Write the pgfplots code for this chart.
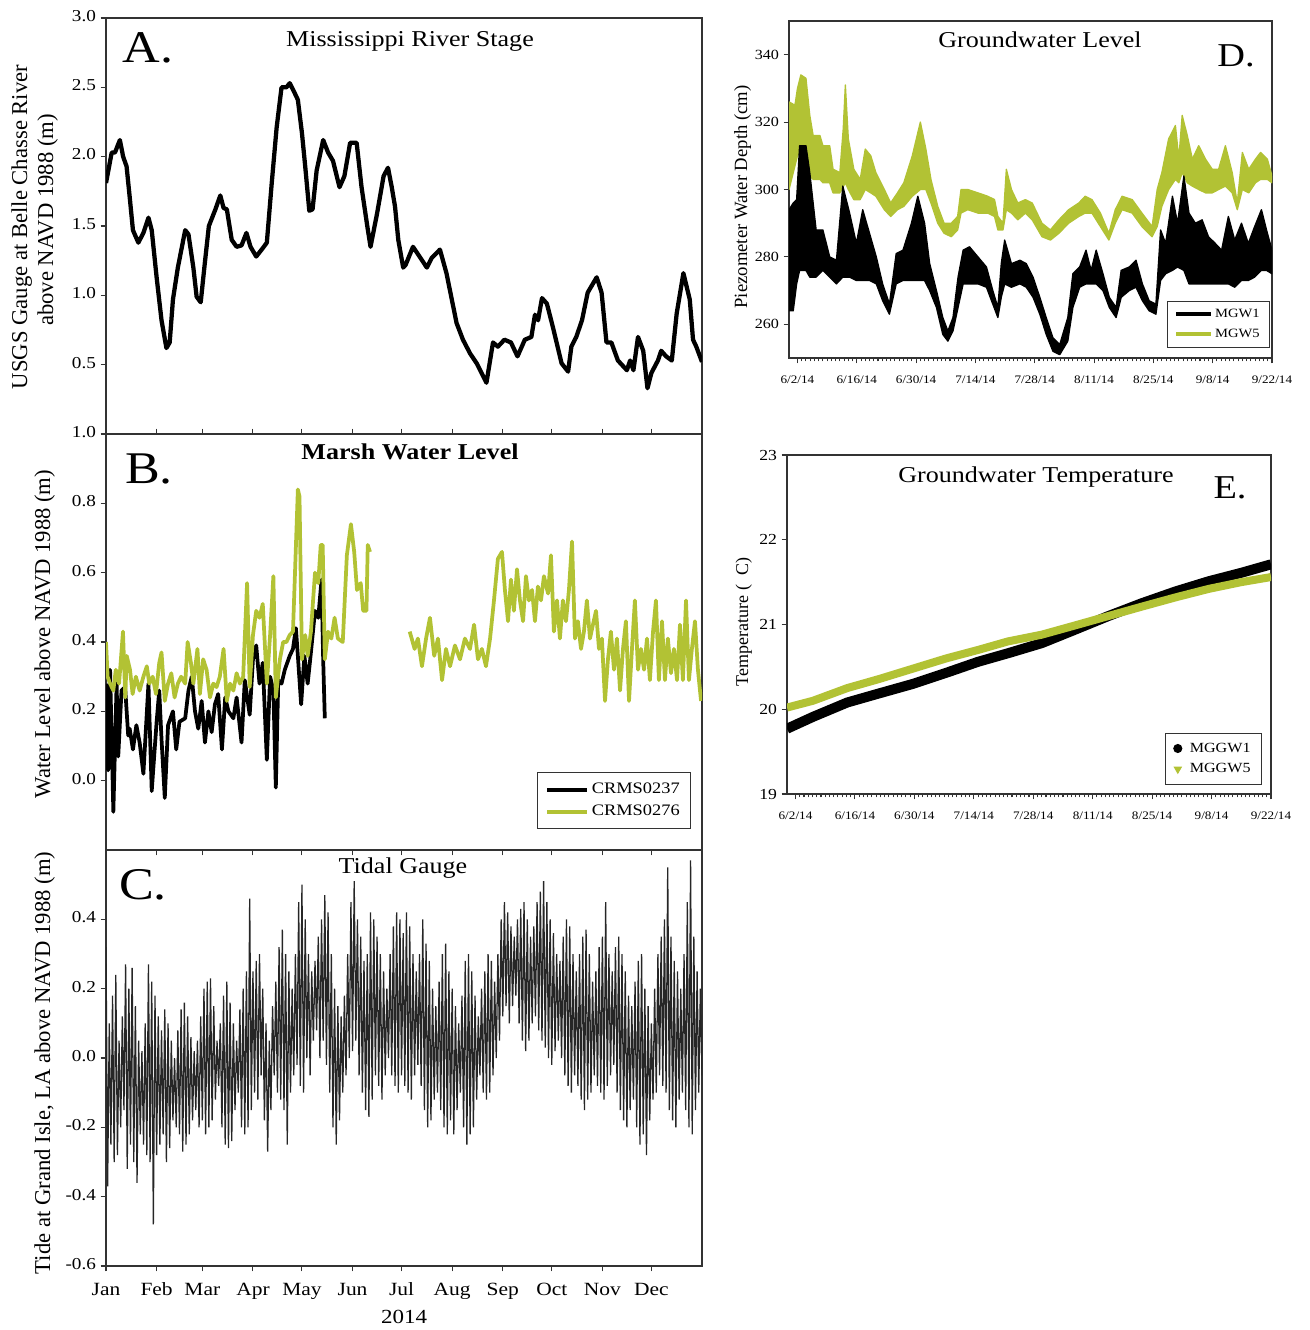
\documentclass[border=0pt]{standalone}
\usepackage{pgfplots}
\pgfplotsset{compat=1.18}
\usepackage{fontspec}
\setmainfont{Liberation Serif}[FakeStretch=1.15]
\newfontfamily\rotfont{Liberation Serif}
\definecolor{ygreen}{RGB}{178,194,52}
\def\U{0.75pt}
\newcommand\fs[1]{\fontsize{#1}{#1}\selectfont}
\pgfplotsset{
  base/.style={scale only axis, axis line style={black!80, line width=1pt},
    tick style={black!80, line width=0.8pt},
    tick align=outside, major tick length=4pt, minor tick length=2.5pt,
    ytick pos=left,
    /pgf/number format/assume math mode=true,
  },
  left/.style={base, width=447pt, height=312pt, xmin=0, xmax=365,
    /pgf/number format/fixed, /pgf/number format/fixed zerofill, /pgf/number format/precision=1,
    yticklabel style={font=\fs{12.5}},
    xticklabel style={font=\fs{14}, yshift=-5pt},
    typeset ticklabels with strut,
  },
  right/.style={base, xmin=-2, xmax=112,
    xtick={0,14,28,42,56,70,84,98,112},
    xticklabels={6/2/14,6/16/14,6/30/14,7/14/14,7/28/14,8/11/14,8/25/14,9/8/14,9/22/14},
    minor x tick num=13, xtick pos=left,
    xticklabel style={font=\fs{8.6}, yshift=-6pt},
  },
}
\begin{document}
\begin{tikzpicture}
\useasboundingbox (0,0) rectangle (981.75pt,-997.5pt);
% ---------------- A
\begin{axis}[left, at={(79.5pt,-325.5pt)}, anchor=south west, ymin=0, ymax=3,
  ytick={0.5,1.0,1.5,2.0,2.5,3.0}, xtick=\empty]
\addplot[black, line width=3.2pt, line join=round] coordinates {
(0,1.81)(3.5,2.03)(5.5,2.03)(8.5,2.12)(10.5,2.0)(12.6,1.93)(14.5,1.71)(16.5,1.47)(19.8,1.38)(22.9,1.45)(26,1.56)(28,1.47)(31,1.13)(34,0.82)(37,0.62)(39,0.66)(41,0.97)(44,1.2)(48.5,1.47)(50.5,1.44)(53.5,1.2)(55.5,0.99)(58,0.95)(60.5,1.23)(63,1.5)(67,1.62)(70,1.72)(72,1.63)(74,1.62)(77,1.4)(80,1.35)(83,1.36)(86,1.45)(88.5,1.35)(92,1.28)(96,1.34)(98.5,1.38)(101.5,1.81)(104.5,2.21)(107.5,2.5)(110.5,2.5)(112.5,2.53)(115.5,2.46)(117.5,2.41)(120,2.17)(122,1.93)(124.5,1.61)(126.5,1.62)(129,1.9)(133,2.12)(136,2.03)(139,1.97)(143,1.78)(146,1.86)(149.5,2.1)(153.5,2.1)(156.5,1.78)(160,1.5)(162,1.35)(166,1.59)(170,1.86)(172.7,1.92)(175,1.78)(177,1.64)(179,1.4)(182,1.2)(183.5,1.22)(188,1.35)(192,1.28)(196.5,1.2)(199.5,1.27)(204.5,1.33)(208.5,1.16)(214.7,0.8)(218.6,0.68)(223,0.58)(227,0.51)(233,0.37)(237,0.66)(240,0.63)(244,0.68)(248,0.66)(252,0.56)(256.5,0.68)(260.5,0.7)(262.7,0.86)(264.6,0.82)(267,0.98)(270,0.94)(273.7,0.77)(279,0.51)(283,0.45)(285,0.63)(288,0.7)(291.5,0.82)(295,1.02)(300.5,1.13)(303.5,1.02)(306.5,0.66)(309.5,0.66)(313.5,0.53)(319,0.46)(321,0.53)(323,0.46)(325.8,0.7)(329,0.6)(331.6,0.33)(334,0.44)(338,0.53)(340,0.6)(343,0.56)(346.5,0.53)(349.5,0.87)(353.6,1.16)(357.5,0.97)(359.5,0.68)(361.5,0.63)(365,0.52)};
\end{axis}
% ---------------- B
\begin{axis}[left, at={(79.5pt,-637.5pt)}, anchor=south west, ymin=-0.2, ymax=1.0,
  ytick={0,0.2,0.4,0.6,0.8,1.0}, xtick={0,31,59,90,120,151,181,212,243,273,304,334},
  xticklabels={,,,,,,,,,,,}, xtick pos=both,
  legend style={at={(0.9815,0.1875)}, anchor=north east, draw=black!80, line width=0.8pt,
    font=\fs{12}, inner xsep=6pt, inner ysep=6pt, row sep=3pt, cells={anchor=west}},
  legend image code/.code={\draw[#1, line width=3pt] (0cm,0cm) -- (1.05cm,0cm);}]
\addplot[black, line width=2.8pt, line join=round] coordinates {
(0,0.28)(1.3,0.03)(2.5,0.32)(4.5,-0.09)(6.5,0.28)(7.5,0.07)(9.5,0.26)(11.7,0.27)(13.6,0.13)(14.5,0.15)(16.5,0.09)(18.6,0.16)(20.6,0.11)(22.9,0.02)(26,0.28)(28,-0.03)(31,0.17)(32.6,0.26)(34,0.12)(36,-0.05)(38,0.16)(41,0.2)(43,0.09)(45,0.17)(48.5,0.18)(50.5,0.26)(52.5,0.3)(54.5,0.2)(56.5,0.15)(58.6,0.23)(60.6,0.11)(62.7,0.2)(64.7,0.14)(66.7,0.22)(68.7,0.25)(71,0.09)(73,0.24)(75,0.2)(78,0.18)(80,0.24)(83,0.11)(85,0.29)(88,0.19)(90,0.35)(92,0.39)(94,0.28)(96,0.34)(98.5,0.06)(100.5,0.30)(102.5,0.26)(104,-0.02)(105.5,0.29)(107.5,0.28)(109.5,0.32)(112.5,0.36)(114.5,0.38)(116.3,0.44)(117.5,0.36)(119.5,0.22)(121.5,0.36)(123.5,0.28)(125.5,0.37)(128,0.49)(130,0.47)(132,0.58)(133,0.35)(134,0.18)};
\addlegendentry{CRMS0237}
\addplot[ygreen, line width=2.8pt, line join=round] coordinates {
(0,0.40)(1,0.30)(2.5,0.28)(4.5,0.26)(6,0.32)(8,0.28)(10.4,0.43)(11.8,0.24)(12.7,0.36)(14.7,0.32)(16.3,0.25)(18.3,0.30)(20.6,0.26)(22.9,0.30)(25,0.33)(26.5,0.28)(28.6,0.30)(30.6,0.25)(32.6,0.34)(34,0.37)(36,0.23)(38,0.28)(40,0.31)(42,0.24)(44,0.28)(46,0.30)(48.5,0.28)(50,0.40)(52,0.34)(53.5,0.28)(56,0.38)(57.5,0.25)(59.5,0.35)(61.6,0.32)(63.7,0.24)(65.7,0.28)(67.7,0.27)(69.7,0.30)(72,0.38)(74,0.23)(76,0.28)(78,0.26)(80,0.31)(82,0.28)(84,0.30)(86.4,0.57)(88,0.27)(90,0.42)(92,0.49)(94,0.47)(96,0.51)(98.5,0.28)(100.5,0.42)(102.5,0.59)(104,0.24)(106.5,0.35)(108.5,0.40)(110.5,0.40)(112.5,0.42)(114.5,0.43)(117.5,0.84)(118.5,0.82)(120,0.35)(122,0.42)(123.5,0.36)(125.5,0.43)(128,0.60)(130,0.57)(131.5,0.68)(132.7,0.68)(134,0.35)(136,0.43)(138,0.41)(140,0.47)(142,0.41)(145,0.40)(147.5,0.65)(150,0.74)(152,0.66)(153.7,0.55)(156,0.57)(157.5,0.49)(159.5,0.49)(160.3,0.68)(161.7,0.66)};
\addlegendentry{CRMS0276}
\addplot[ygreen, line width=2.8pt, line join=round, forget plot] coordinates {
(186,0.43)(189,0.38)(191,0.41)(193.5,0.33)(196,0.41)(198.4,0.47)(201,0.36)(203.3,0.41)(205.8,0.29)(208.2,0.38)(210.7,0.33)(213.7,0.39)(216.8,0.35)(219.8,0.41)(222.9,0.38)(225.4,0.45)(227.8,0.35)(230.2,0.38)(232.7,0.33)(235.2,0.41)(237.6,0.52)(240,0.64)(242.5,0.66)(244.3,0.55)(246.2,0.46)(248,0.58)(249.8,0.49)(251.7,0.61)(253.5,0.52)(255.4,0.46)(257.2,0.59)(259,0.52)(260.9,0.55)(262.7,0.46)(264.5,0.56)(266.4,0.52)(268.2,0.59)(270.7,0.54)(272.5,0.65)(274.3,0.43)(276.2,0.52)(278,0.41)(279.8,0.52)(281.7,0.46)(283.5,0.55)(285.4,0.69)(287.2,0.41)(289,0.46)(290.9,0.38)(292.7,0.43)(294.5,0.52)(296.4,0.41)(298.2,0.45)(300.1,0.49)(301.9,0.38)(303.7,0.41)(305.6,0.23)(307.4,0.35)(309.2,0.43)(311.1,0.32)(312.9,0.41)(314.8,0.26)(316.6,0.38)(318.4,0.46)(320.3,0.23)(322.1,0.38)(323.9,0.52)(325.8,0.32)(327.6,0.38)(329.5,0.32)(331.3,0.41)(333.1,0.29)(335,0.43)(336.8,0.52)(338.6,0.29)(340.5,0.46)(342.3,0.29)(344.1,0.41)(346,0.31)(347.8,0.38)(349.7,0.29)(351.5,0.45)(353.3,0.29)(355.2,0.52)(357,0.29)(358.8,0.38)(360.7,0.46)(362.5,0.32)(364.4,0.23)};
\end{axis}
% ---------------- C
\begin{axis}[left, at={(79.5pt,-949.5pt)}, anchor=south west, ymin=-0.6, ymax=0.6,
  ytick={-0.6,-0.4,-0.2,0,0.2,0.4}, xtick={0,31,59,90,120,151,181,212,243,273,304,334},
  xticklabels={Jan,Feb,Mar,Apr,May,Jun,Jul,Aug,Sep,Oct,Nov,Dec}, xtick pos=left]
\addplot[black!85, line width=0.95pt] coordinates {
(0,0.32)(1,-0.37)(2,0.10)(3,-0.25)(4,0.18)(5,-0.30)(6,0.24)(7,-0.28)(8,0.05)(9,-0.20)(10,0.12)(11,-0.15)(12,0.27)(13,-0.32)(14,0.20)(15,-0.25)(16,0.26)(17,-0.30)(18,0.15)(19,-0.36)(20,0.05)(21,-0.22)(22,0.02)(23,-0.25)(24,0.10)(25,-0.28)(26,0.27)(27,-0.30)(28,0.22)(29,-0.48)(30,0.18)
(31,-0.28)(32,0.12)(33,-0.25)(34,0.08)(35,-0.22)(36,0.14)(37,-0.30)(38,0.10)(39,-0.26)(40,0.05)(41,-0.18)(42,0.00)(43,-0.20)(44,0.08)(45,-0.22)(46,0.14)(47,-0.27)(48,0.16)(49,-0.25)(50,0.12)(51,-0.22)(52,0.06)(53,-0.18)(54,0.02)(55,-0.15)(56,0.05)(57,-0.20)(58,0.12)
(59,-0.18)(60,0.20)(61,-0.22)(62,0.22)(63,-0.20)(64,0.23)(65,-0.18)(66,0.15)(67,-0.12)(68,0.05)(69,-0.08)(70,0.10)(71,-0.20)(72,0.18)(73,-0.25)(74,0.22)(75,-0.26)(76,0.16)(77,-0.24)(78,0.10)(79,-0.15)(80,0.05)(81,-0.10)(82,0.14)(83,-0.20)(84,0.20)(85,-0.22)(86,0.25)(87,-0.20)(88,0.46)(89,-0.15)
(90,0.25)(91,-0.10)(92,0.28)(93,-0.12)(94,0.30)(95,-0.05)(96,0.20)(97,-0.18)(98,0.10)(99,-0.27)(100,0.05)(101,-0.15)(102,0.15)(103,-0.05)(104,0.22)(105,-0.10)(106,0.32)(107,-0.12)(108,0.37)(109,-0.15)(110,0.30)(111,-0.25)(112,0.25)(113,-0.10)(114,0.20)(115,-0.05)(116,0.30)(117,-0.02)(118,0.45)(119,-0.08)
(120,0.50)(121,-0.10)(122,0.40)(123,0.00)(124,0.30)(125,-0.05)(126,0.25)(127,0.05)(128,0.28)(129,0.08)(130,0.35)(131,0.00)(132,0.40)(133,0.05)(134,0.47)(135,-0.02)(136,0.42)(137,-0.10)(138,0.30)(139,-0.20)(140,0.20)(141,-0.25)(142,0.15)(143,-0.18)(144,0.12)(145,-0.10)(146,0.18)(147,-0.05)(148,0.30)(149,0.00)(150,0.45)
(151,0.02)(152,0.51)(153,0.05)(154,0.40)(155,-0.05)(156,0.35)(157,-0.10)(158,0.28)(159,-0.15)(160,0.30)(161,-0.17)(162,0.42)(163,-0.12)(164,0.40)(165,-0.05)(166,0.35)(167,-0.08)(168,0.30)(169,-0.12)(170,0.25)(171,-0.05)(172,0.20)(173,0.00)(174,0.30)(175,-0.05)(176,0.38)(177,-0.08)(178,0.42)(179,-0.10)(180,0.40)
(181,-0.05)(182,0.36)(183,-0.08)(184,0.42)(185,-0.10)(186,0.38)(187,-0.12)(188,0.30)(189,-0.05)(190,0.25)(191,-0.02)(192,0.30)(193,-0.08)(194,0.40)(195,-0.15)(196,0.33)(197,-0.20)(198,0.28)(199,-0.18)(200,0.20)(201,-0.12)(202,0.15)(203,-0.10)(204,0.22)(205,-0.15)(206,0.30)(207,-0.20)(208,0.33)(209,-0.22)(210,0.25)(211,-0.18)
(212,0.20)(213,-0.22)(214,0.15)(215,-0.15)(216,0.10)(217,-0.10)(218,0.18)(219,-0.20)(220,0.28)(221,-0.25)(222,0.30)(223,-0.22)(224,0.25)(225,-0.20)(226,0.18)(227,-0.12)(228,0.12)(229,-0.05)(230,0.20)(231,-0.10)(232,0.25)(233,-0.12)(234,0.30)(235,-0.10)(236,0.28)(237,-0.05)(238,0.22)(239,0.00)(240,0.30)(241,0.05)(242,0.40)
(243,0.12)(244,0.45)(245,0.15)(246,0.42)(247,0.10)(248,0.38)(249,0.15)(250,0.35)(251,0.18)(252,0.40)(253,0.10)(254,0.43)(255,0.05)(256,0.45)(257,0.02)(258,0.40)(259,0.05)(260,0.35)(261,0.10)(262,0.38)(263,0.12)(264,0.45)(265,0.08)(266,0.48)(267,0.05)(268,0.51)(269,0.03)(270,0.45)(271,0.00)(272,0.40)
(273,-0.02)(274,0.36)(275,0.02)(276,0.30)(277,0.05)(278,0.28)(279,0.00)(280,0.35)(281,-0.05)(282,0.40)(283,-0.08)(284,0.38)(285,-0.10)(286,0.30)(287,-0.05)(288,0.25)(289,-0.08)(290,0.30)(291,-0.12)(292,0.35)(293,-0.15)(294,0.37)(295,-0.12)(296,0.30)(297,-0.10)(298,0.22)(299,-0.05)(300,0.25)(301,-0.08)(302,0.32)(303,-0.10)
(304,0.35)(305,-0.12)(306,0.45)(307,-0.08)(308,0.30)(309,-0.05)(310,0.25)(311,-0.02)(312,0.32)(313,-0.10)(314,0.35)(315,-0.15)(316,0.30)(317,-0.18)(318,0.25)(319,-0.20)(320,0.18)(321,-0.15)(322,0.15)(323,-0.12)(324,0.22)(325,-0.20)(326,0.28)(327,-0.25)(328,0.30)(329,-0.22)(330,0.20)(331,-0.28)(332,0.15)(333,-0.18)
(334,0.10)(335,-0.12)(336,0.20)(337,-0.10)(338,0.30)(339,-0.05)(340,0.35)(341,-0.08)(342,0.40)(343,-0.10)(344,0.55)(345,-0.15)(346,0.35)(347,-0.18)(348,0.28)(349,-0.20)(350,0.25)(351,-0.12)(352,0.20)(353,-0.10)(354,0.30)(355,-0.15)(356,0.45)(357,-0.20)(358,0.57)(359,-0.22)(360,0.35)(361,-0.15)(362,0.25)(363,-0.10)(364,0.20)(365,-0.05)};
\end{axis}
% ---------------- D
\begin{axis}[right, at={(591.75pt,-268.5pt)}, anchor=south west, width=362.25pt, height=252.75pt,
  ymin=250, ymax=350, ytick={260,280,300,320,340}, yticklabel style={font=\fs{10.5}},
  legend style={at={(0.995,0.17)}, anchor=north east, draw=black!80, line width=0.8pt,
    font=\fs{9.5}, inner xsep=5pt, inner ysep=4pt, row sep=3pt, cells={anchor=west}},
  legend image code/.code={\draw[#1] (0cm,0cm) -- (0.9cm,0cm);}]
\addplot[fill=ygreen, draw=ygreen, line width=1pt, line join=round, forget plot] coordinates {
(-2,326)(-0.6,325)(0,330)(0.8,334)(2,333)(2.9,322)(3.7,316)(5.3,316)(6,313)(7.6,313)(8.4,306)(10,305)(10.8,318)(11.3,331)(12,315)(13.3,306)(14.8,303)(16,312)(17.3,310)(18.5,305)(20.5,300)(22,296)(23.6,299)(25.1,302)(27.1,310)(29,320)(30.3,312)(31.5,303)(33.1,295)(34.6,290)(36.3,290)(37.8,292)(38.6,300)(40.2,300)(42.6,299)(44.9,298)(46.5,297)(47.3,292)(48.5,290)(49.3,306)(50.5,300)(52,296)(53.8,297)(55.4,296)(57.7,290)(59.7,288)(61.7,291)(64,294)(66.4,296)(67.9,298)(69.5,297)(71.5,293)(73.5,287)(75,294)(76.6,298)(79,297)(81.3,293)(83.7,289)(84.9,300)(86,305)(87.6,315)(89.2,319)(90,309)(90.8,322)(92,316)(93.2,309)(94.7,313)(96.3,309)(97.9,306)(99.4,306)(101,313)(102.6,305)(103.8,296)(105,311)(106.5,306)(108.1,309)(109.3,311)(110.9,309)(112,304)
(112,302)(110.9,303)(109.3,303)(108.1,302)(106.5,299)(105,300)(103.8,294)(102.6,299)(101,301)(99.4,300)(97.9,299)(96.3,299)(94.7,300)(93.2,301)(92,302)(90.8,305)(90,302)(89.2,303)(87.6,300)(86,295)(84.9,289)(83.7,286)(81.3,289)(79,293)(76.6,294)(75,290)(73.5,285)(71.5,289)(69.5,293)(67.9,293)(66.4,292)(64,290)(61.7,287)(59.7,285)(57.7,286)(55.4,291)(53.8,293)(52,291)(50.5,293)(49.3,294)(48.5,288)(47.3,288)(46.5,292)(44.9,293)(42.6,293)(40.2,294)(38.6,293)(37.8,288)(36.3,286)(34.6,287)(33.1,290)(31.5,296)(30.3,300)(29,300)(27.1,298)(25.1,295)(23.6,294)(22,292)(20.5,294)(18.5,298)(17.3,299)(16,300)(14.8,297)(13.3,297)(12,300)(11.3,302)(10,299)(8.4,299)(7.6,302)(6,302)(5.3,303)(3.7,303)(2.9,304)(2,310)(0.8,312)(0,310)(-0.6,307)(-2,300)(-2,326)};
\addplot[fill=black, draw=black, line width=1pt, line join=round, forget plot] coordinates {
(-2,294)(-1,296)(-0.2,297)(0.5,313)(2,313)(2.9,305)(4.4,288)(6,288)(7.6,280)(9.2,279)(10.7,301)(12.3,293)(13.9,284)(15.4,294)(17,287)(18.6,280)(20.1,272)(21.7,266)(23.3,281)(24.9,282)(26.9,290)(28.4,298)(30,290)(31.2,278)(32.8,270)(34.3,262)(35.5,258)(36.7,262)(37.9,274)(39.1,282)(40.6,283)(42.6,280)(44.6,277)(46.1,270)(47.3,265)(48.1,278)(48.9,285)(50.5,278)(52.5,279)(54,278)(55.6,274)(57.2,268)(58.7,262)(60.3,256)(61.9,254)(63.8,262)(65,275)(66.6,277)(68.1,282)(69.3,276)(70.5,282)(72.1,275)(73.6,268)(75.2,265)(76.4,276)(78.3,277)(79.9,279)(81.4,272)(83,267)(84.6,266)(85.7,288)(86.9,284)(88.5,298)(89.7,290)(91.2,304)(92.4,293)(93.9,290)(95.5,291)(97,286)(98.6,284)(100.1,282)(101.7,292)(103.2,285)(104.8,290)(106.4,284)(107.9,289)(109.5,294)(110.7,288)(112,282)
(112,275)(110.7,276)(109.5,276)(107.9,274)(106.4,273)(104.8,273)(103.2,271)(101.7,272)(100.1,272)(98.6,272)(97,272)(95.5,272)(93.9,272)(92.4,272)(91.2,276)(89.7,277)(88.5,276)(86.9,275)(85.7,273)(84.6,263)(83,264)(81.4,267)(79.9,271)(78.3,270)(76.4,268)(75.2,262)(73.6,265)(72.1,270)(70.5,272)(69.3,272)(68.1,272)(66.6,271)(65,265)(63.8,255)(61.9,251)(60.3,252)(58.7,257)(57.2,263)(55.6,268)(54,271)(52.5,272)(50.5,271)(48.9,272)(48.1,268)(47.3,262)(46.1,266)(44.6,271)(42.6,272)(40.6,272)(39.1,272)(37.9,265)(36.7,258)(35.5,255)(34.3,257)(32.8,265)(31.2,270)(30,273)(28.4,273)(26.9,273)(24.9,273)(23.3,272)(21.7,263)(20.1,267)(18.6,272)(17,273)(15.4,273)(13.9,273)(12.3,274)(10.7,274)(9.2,272)(7.6,274)(6,276)(4.4,274)(2.9,274)(2,276)(0.5,276)(-0.2,272)(-1,264)(-2,264)(-2,294)};
\addlegendimage{black, line width=3pt}\addlegendentry{MGW1}
\addlegendimage{ygreen, line width=3pt}\addlegendentry{MGW5}
\end{axis}
% ---------------- E
\begin{axis}[right, at={(590.25pt,-595.5pt)}, anchor=south west, width=363pt, height=254.25pt,
  ymin=19, ymax=23, ytick={19,20,21,22,23}, yticklabel style={font=\fs{11.5}},
  legend style={at={(0.981,0.18)}, anchor=north east, draw=black!80, line width=0.8pt,
    font=\fs{10.5}, inner xsep=6pt, inner ysep=5pt, row sep=3pt, cells={anchor=west},
    /tikz/every odd column/.append style={column sep=4pt}}]
\addplot[black, line width=7.5pt, forget plot] coordinates {
(-2,19.77)(4.1,19.91)(12.2,20.08)(19.9,20.19)(27.7,20.3)(35.5,20.43)(43,20.56)(50,20.66)(58,20.78)(65.9,20.94)(73.7,21.1)(81.5,21.25)(89.5,21.39)(97.3,21.51)(105,21.61)(112,21.71)};
\addplot[ygreen, line width=6pt, forget plot] coordinates {
(-2,20.02)(4.1,20.1)(12.2,20.25)(19.9,20.36)(27.7,20.48)(35.5,20.6)(43,20.7)(50,20.8)(58,20.88)(65.9,20.99)(73.7,21.1)(81.5,21.21)(89.5,21.32)(97.3,21.42)(105,21.5)(112,21.56)};
\addlegendimage{only marks, mark=*, mark size=3pt, black}\addlegendentry{MGGW1}
\addlegendimage{only marks, mark=triangle*, mark size=3pt, mark options={rotate=180}, ygreen}\addlegendentry{MGGW5}
\end{axis}
% ---------------- texts
\node[anchor=base, font=\fs{34}] at ({148*\U},{-63*\U}) {A.};
\node[anchor=base, font=\fs{17}] at ({410*\U},{-47*\U}) {Mississippi River Stage};
\node[anchor=base, font=\fs{34}] at ({149*\U},{-483*\U}) {B.};
\node[anchor=base, font=\fs{17}\bfseries] at ({410*\U},{-459*\U}) {Marsh Water Level};
\node[anchor=base, font=\fs{34}] at ({143*\U},{-899*\U}) {C.};
\node[anchor=base, font=\fs{17}] at ({403*\U},{-873*\U}) {Tidal Gauge};
\node[anchor=base, font=\fs{25}] at ({1236*\U},{-67*\U}) {D.};
\node[anchor=base, font=\fs{17}] at ({1040*\U},{-48*\U}) {Groundwater Level};
\node[anchor=base, font=\fs{25}] at ({1230*\U},{-498*\U}) {E.};
\node[anchor=base, font=\fs{17}] at ({1036*\U},{-482*\U}) {Groundwater Temperature};
\node[anchor=base, font=\fs{15}] at ({404*\U},{-1323*\U}) {2014};
\node[anchor=base, rotate=90, font=\rotfont\fs{17}] at ({27*\U},{-227*\U}) {USGS Gauge at Belle Chasse River};
\node[anchor=base, rotate=90, font=\rotfont\fs{17}] at ({53*\U},{-220*\U}) {above NAVD 1988 (m)};
\node[anchor=base, rotate=90, font=\rotfont\fs{17}] at ({50*\U},{-634*\U}) {Water Level above NAVD 1988 (m)};
\node[anchor=base, rotate=90, font=\rotfont\fs{17}] at ({50*\U},{-1063*\U}) {Tide at Grand Isle, LA above NAVD 1988 (m)};
\node[anchor=base, rotate=90, font=\rotfont\fs{14}] at ({747*\U},{-197*\U}) {Piezometer Water Depth (cm)};
\node[anchor=base, rotate=90, font=\rotfont\fs{13.5}] at ({748*\U},{-622*\U}) {Temperature (\,\,\,C)};
\end{tikzpicture}
\end{document}
